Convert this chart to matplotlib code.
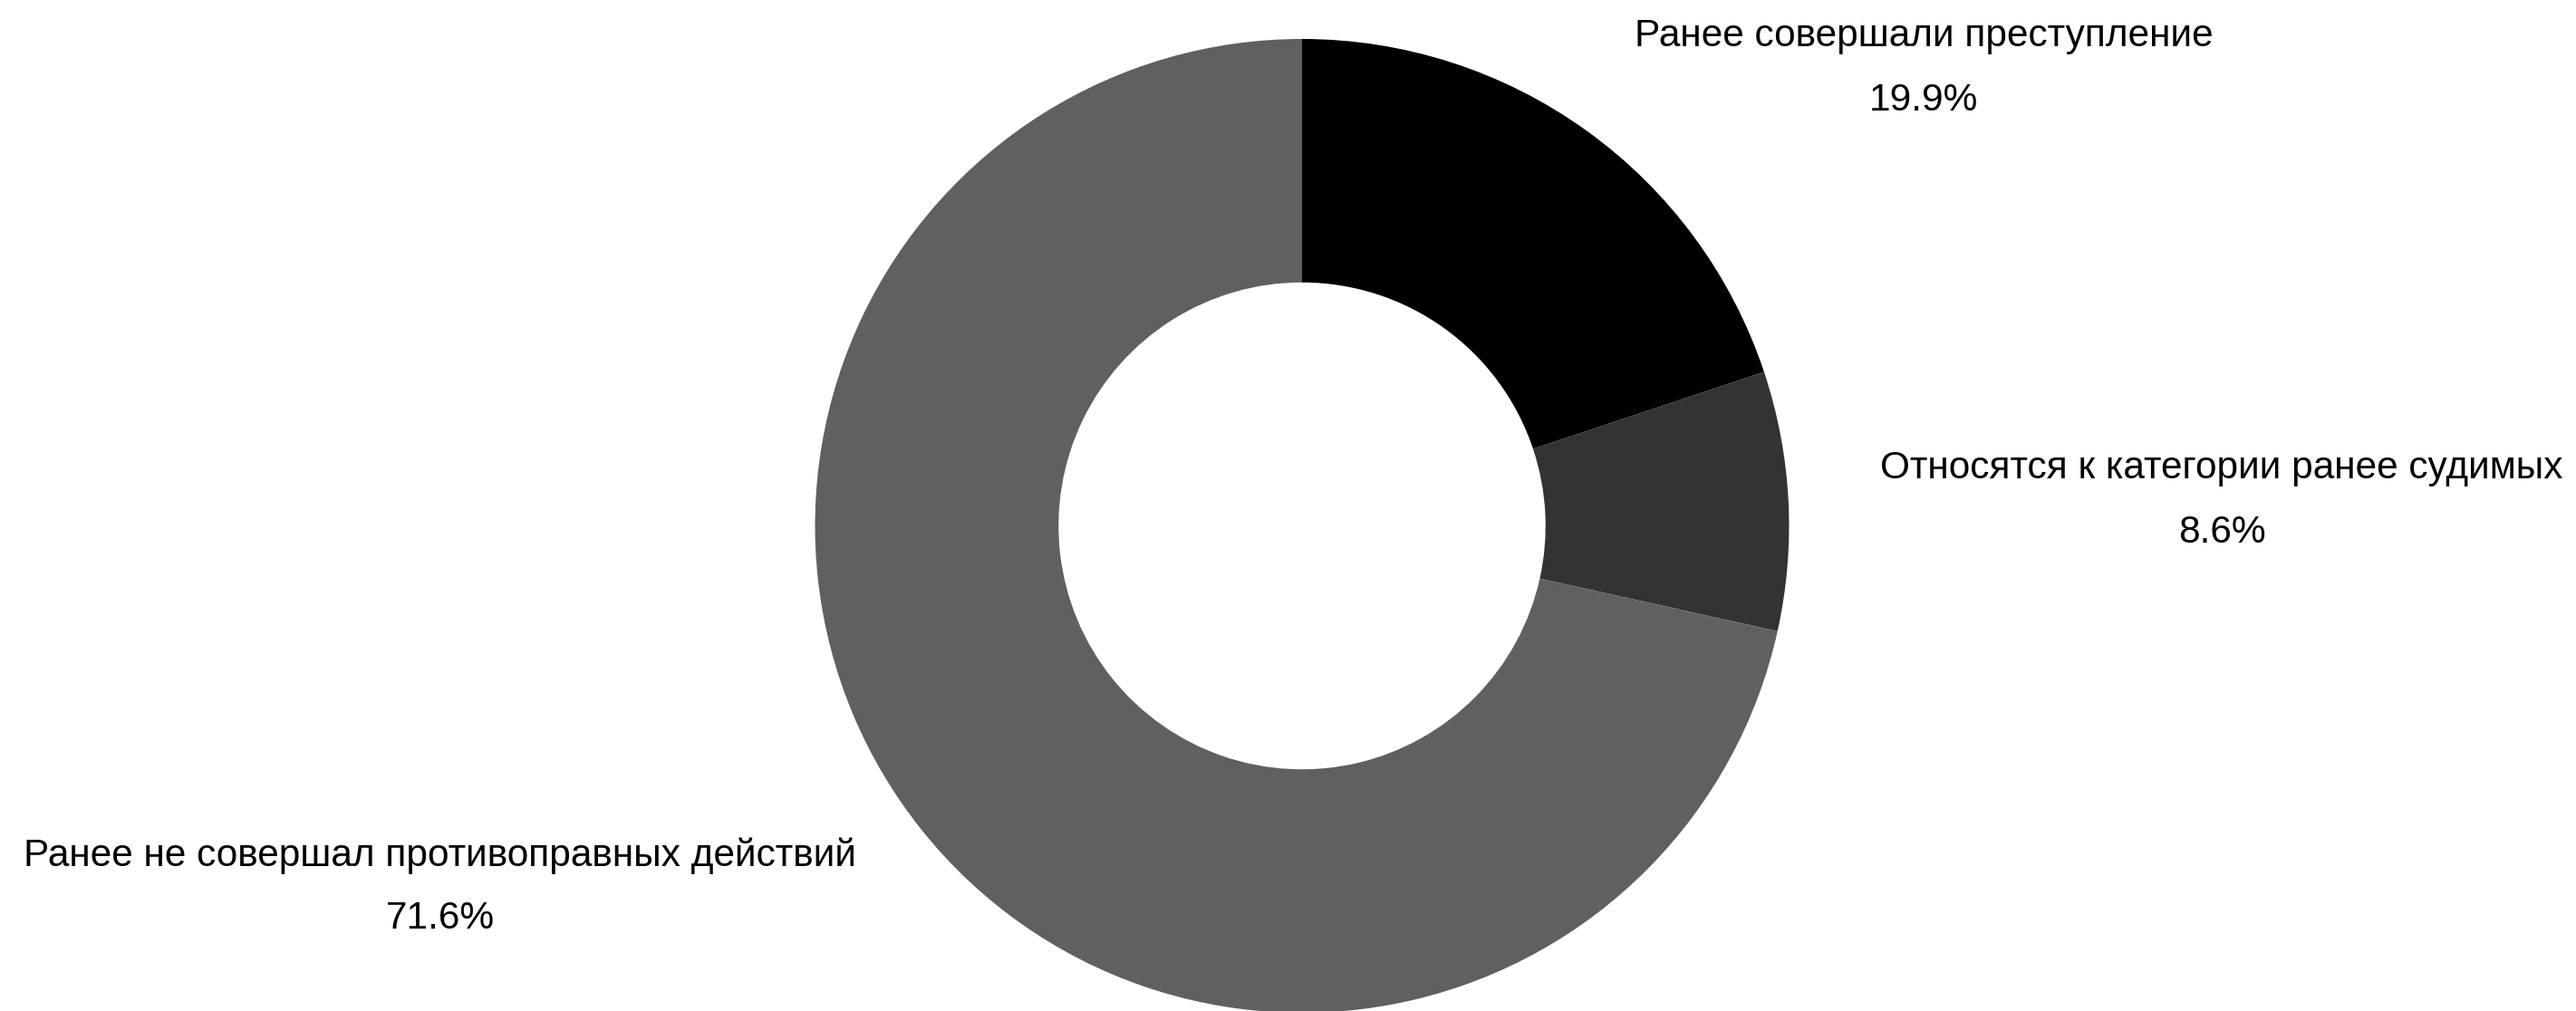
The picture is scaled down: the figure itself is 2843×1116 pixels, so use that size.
import matplotlib
matplotlib.use("Agg")
import matplotlib.pyplot as plt
from matplotlib import font_manager

# chart data
labels = [
    "Ранее совершали преступление",
    "Относятся к категории ранее судимых",
    "Ранее не совершал противоправных действий",
]
shares = [19.9, 8.6, 71.6]
colors = ["#000000", "#333333", "#606060"]

W, H = 2843, 1116
names = {f.name for f in font_manager.fontManager.ttflist}
family = "Liberation Sans Narrow" if "Liberation Sans Narrow" in names else "Liberation Sans"

fig = plt.figure(figsize=(W / 100, H / 100), dpi=100)
ax = fig.add_axes([0, 0, 1, 1])

cx, cy, r = 1437, H - 580.5, 537.5
ax.pie(shares, colors=colors, startangle=90, counterclock=False,
       center=(cx, cy), radius=r, frame=True,
       wedgeprops=dict(width=r * 0.5, linewidth=0))
ax.set_xlim(0, W)
ax.set_ylim(0, H)
ax.axis("off")

# label anchors (pixel centres of the two text lines)
anchors = [(2123, 40, 111), (2452, 517, 588), (486, 945, 1014)]
for lab, v, (x, y1, y2) in zip(labels, shares, anchors):
    ax.text(x, H - y1, lab, ha="center", va="center", fontsize=30.5,
            family=family, color="black")
    ax.text(x, H - y2, f"{v}%", ha="center", va="center", fontsize=30.5,
            family=family, color="black")

fig.savefig("out.png", dpi=100)
plt.close(fig)
